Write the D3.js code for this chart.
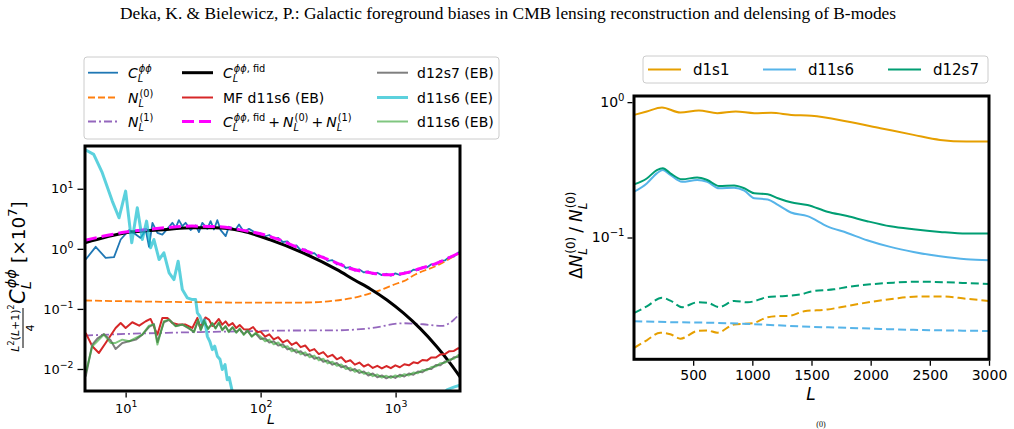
<!DOCTYPE html>
<html>
<head>
<meta charset="utf-8">
<script src="https://cdn.jsdelivr.net/npm/d3@7"></script>
<style>
  body { margin: 0; background: #fff; }
  svg { font-family: "DejaVu Sans", sans-serif; }
</style>
</head>
<body>
<svg id="fig" width="1014" height="429"></svg>
<script>
// ---------- data: left panel (lensing spectra, x10^7) ----------
const hiL = [100,108,116,125,135,146,158,170,184,198,214,231,250,270,291,314,340,367,396,428,462,499,539,582,628,678,732,791,854,922,996,1075,1161,1254,1354,1462,1579,1705,1841,1988,2147,2318,2503,2703,2918,3000];

const clLowL = [5.06,6.0,7.11,8.2,9.19,10.6,11.9,12.9,14.1,14.9,15.8,17.2,18.7,20.4,22.2,23.5,24.8,26.3,27.8,30.3,33,34.9,37,40.3,42.6,45.1,47.8,50.6,55.1,58.2,65.3,69.2,75.3,82,91.9];
const clLowV = [0.664,1.08,0.708,0.726,1.43,2.05,1.73,1.52,2.05,1.08,2.71,1.85,1.73,2.15,2.71,2.24,3.0,2.39,2.71,2.05,2.45,1.9,2.71,2.15,2.89,2.1,3.0,2.05,1.63,2.33,2.1,2.55,1.9,2.15,1.85];
const clHiV = [1.80,1.62,1.70,1.47,1.52,1.30,1.33,1.10,1.14,0.95,0.98,0.83,0.85,0.72,0.74,0.63,0.65,0.55,0.565,0.48,0.495,0.435,0.455,0.405,0.42,0.38,0.40,0.365,0.385,0.357,0.39,0.367,0.405,0.398,0.45,0.442,0.495,0.49,0.553,0.55,0.628,0.64,0.735,0.745,0.87,0.86];

const n0L = [5,10,20,40,80,150,250,350,486,650,815,1000,1150,1400,2000,2930];
const n0V = [0.138,0.134,0.131,0.129,0.127,0.127,0.129,0.137,0.153,0.182,0.215,0.26,0.29,0.375,0.52,0.83];

const n1L = [5,10,20,40,80,118,368,650,1146,1600,2200,2700,3000];
const n1V = [0.036,0.0383,0.040,0.0414,0.0425,0.0435,0.044,0.0477,0.0577,0.0555,0.052,0.066,0.085];

const fidL = [5,10,20,31,46,73,118,208,368,500,650,863,1146,1524,2022,2541,3000];
const fidV = [1.26,1.85,2.1,2.24,2.24,1.97,1.41,0.85,0.45,0.30,0.215,0.141,0.085,0.047,0.0235,0.0124,0.0074];

const mfLowL = [5.06,5.66,6.34,7.11,8.43,9.19,10,11.2,12.6,14.1,15.3,17.2,18.7,20.4,22.2,24.8,27.8,31.2,34,35.5,37,39,41.4,43.9,46.4,49,52,55,58,62,66,70,75,82,88,94];
const mfLowV = [0.0398,0.0239,0.0185,0.0271,0.0482,0.0584,0.0482,0.06,0.0527,0.0623,0.0681,0.0373,0.0708,0.0708,0.0584,0.0548,0.0548,0.0482,0.0708,0.050,0.0584,0.072,0.0664,0.052,0.0584,0.068,0.0548,0.062,0.0527,0.058,0.048,0.054,0.046,0.0453,0.050,0.041];
const mfHiV = [0.042,0.0345,0.0378,0.031,0.0338,0.0278,0.0302,0.0252,0.0277,0.0231,0.0246,0.0200,0.0214,0.0177,0.0191,0.0159,0.0172,0.0145,0.0157,0.0131,0.0140,0.0118,0.0128,0.0110,0.0119,0.0104,0.0113,0.0102,0.0112,0.0103,0.0115,0.0107,0.0120,0.0115,0.0129,0.0125,0.0141,0.0138,0.0156,0.0155,0.0175,0.0177,0.0198,0.0200,0.0222,0.0220];

const sumL = [5,10,20,31,46,73,118,208,368,451,650,863,1148,1524,2022,3000];
const sumV = [1.39,1.9,2.25,2.39,2.35,2.05,1.6,0.96,0.58,0.48,0.40,0.37,0.39,0.47,0.58,0.87];

const ebLowL = [5.06,5.66,6.17,6.9,7.74,8.43,9.45,10.6,11.9,13.3,14.9,16.2,17.2,19.2,21.0,23.5,26.3,29.5,32.1,34.4,36.0,38.2,40.8,43.9,46.4,49.1,52,55,58,62,66,70,75,80,86,92];
const d12LowV = [0.0075,0.0255,0.032,0.0383,0.030,0.0216,0.0271,0.0289,0.0308,0.0373,0.050,0.056,0.028,0.060,0.066,0.052,0.055,0.047,0.042,0.064,0.045,0.061,0.047,0.057,0.048,0.058,0.045,0.051,0.042,0.049,0.041,0.046,0.038,0.043,0.035,0.039];
const d12HiV = [0.0315,0.0325,0.0275,0.0290,0.0245,0.0258,0.0212,0.0222,0.0187,0.0198,0.0168,0.0177,0.0148,0.0156,0.0132,0.0139,0.0118,0.0126,0.0107,0.0112,0.0094,0.0100,0.0086,0.0091,0.0078,0.0084,0.0073,0.0078,0.0070,0.0076,0.0071,0.0080,0.0075,0.0084,0.0080,0.0091,0.0088,0.0100,0.0100,0.0116,0.0115,0.0133,0.0134,0.0157,0.0159,0.0178];
const d11LowV = [0.0086,0.0239,0.0289,0.0373,0.0271,0.0271,0.0308,0.0289,0.0329,0.0373,0.0527,0.0548,0.0255,0.0623,0.0664,0.0514,0.0548,0.0482,0.0408,0.066,0.0440,0.063,0.046,0.0584,0.047,0.060,0.0440,0.052,0.041,0.050,0.040,0.047,0.037,0.044,0.0345,0.040];
const d11HiV = [0.0345,0.0290,0.0308,0.0257,0.0276,0.0229,0.0239,0.0197,0.0210,0.0176,0.0189,0.0157,0.0167,0.0139,0.0148,0.0124,0.0132,0.0113,0.0119,0.0100,0.0105,0.0090,0.0096,0.0083,0.0087,0.0076,0.0081,0.0072,0.0077,0.0071,0.0078,0.0074,0.0082,0.0078,0.0087,0.0085,0.0096,0.0095,0.0108,0.0110,0.0125,0.0127,0.0144,0.0148,0.0171,0.0173];

const eeL = [5.06,5.8,6.71,7.96,8.93,10,11.1,12.2,13.3,14.3,15.3,16.2,17.7,19.2,21,22.8,24.5,26.3,28.6,31.2,33,34,35.5,37,38.5,40.3,42,43.9,45.7,47.8,50,52,54.5,56.6,58.5,61.7,70,150,500,1500,2200,2400,2700,3000];
const eeV = [44.1,37.4,18.5,6.23,3.29,9.14,1.26,4.82,1.43,2.89,1.04,1.43,0.664,0.86,0.398,0.308,0.623,0.21,0.153,0.143,0.143,0.0858,0.0755,0.0584,0.066,0.035,0.0289,0.021,0.024,0.0163,0.0145,0.0098,0.0118,0.0066,0.0072,0.0042,0.003,0.0015,0.001,0.002,0.0035,0.0045,0.005,0.0054];

// ---------- data: right panel (relative N0 bias) ----------
const solidL = [2,108,193,244,307,406,534,619,719,846,932,1017,1130,1216,1326,1466,1634,1802,1970,2166,2362,2586,2810,3000];
const d12s7Solid = [0.247,0.273,0.315,0.325,0.298,0.269,0.278,0.266,0.240,0.242,0.231,0.212,0.209,0.195,0.182,0.174,0.155,0.144,0.132,0.121,0.115,0.110,0.107,0.107];
const d11s6Solid = [0.218,0.251,0.298,0.315,0.290,0.258,0.266,0.258,0.231,0.233,0.222,0.195,0.191,0.174,0.153,0.144,0.121,0.108,0.0955,0.0853,0.0783,0.0727,0.0691,0.068];
const d1s1L = [2,108,236,392,548,704,860,1017,1159,1329,1500,1802,2082,2362,2586,2810,3000];
const d1s1Solid = [0.805,0.853,0.913,0.838,0.868,0.829,0.853,0.829,0.834,0.805,0.792,0.719,0.642,0.573,0.526,0.511,0.511];

const d12DashL = [2,108,236,307,406,534,619,719,846,960,1130,1234,1410,1500,1690,1802,1998,2194,2418,2642,2810,3000];
const d12s7Dash = [0.0277,0.031,0.0359,0.0342,0.0306,0.0332,0.0330,0.0306,0.034,0.0332,0.0363,0.0368,0.038,0.040,0.0414,0.0431,0.0451,0.0464,0.0472,0.0467,0.0461,0.0454];
const d1DashL = [2,108,222,307,392,534,619,704,846,1003,1130,1234,1298,1438,1634,1802,1998,2194,2418,2586,2810,3000];
const d1s1Dash = [0.0153,0.0174,0.0198,0.0193,0.0179,0.0204,0.0206,0.0198,0.0228,0.0233,0.0258,0.0263,0.0263,0.0285,0.0294,0.0312,0.0334,0.0353,0.0367,0.0367,0.0353,0.034];
const d11DashL = [2,307,704,1074,1319,1802,2362,3000];
const d11s6Dash = [0.0241,0.0237,0.0234,0.0228,0.0222,0.0215,0.0208,0.0204];

const leftYTicks = [0.01, 0.1, 1, 10];
const leftXTicks = [10, 100, 1000];
const rightYTicks = [0.1, 1];
const rightXTicks = [500, 1000, 1500, 2000, 2500, 3000];

const titleText = "Deka, K. & Bielewicz, P.: Galactic foreground biases in CMB lensing reconstruction and delensing of B-modes";

// ---------- helpers ----------
const zip = (a, b) => a.map((v, i) => [v, b[i]]);
const svg = d3.select("#fig");

function plain(g, x, y, s, fs, italic) {
  const t = g.append("text").attr("x", x).attr("y", y)
    .style("font-size", fs + "px").style("font-style", italic ? "italic" : "normal").text(s);
  return x + t.node().getComputedTextLength();
}

// base symbol with stacked sub/superscript, returns the x where it ends
function term(g, x, y, base, sub, sup, fs) {
  const b = g.append("text").attr("x", x).attr("y", y)
    .style("font-size", fs + "px").style("font-style", "italic").text(base);
  const w = b.node().getComputedTextLength();
  const ss = fs * 0.7;
  const p = g.append("text").attr("x", x + w + 1).attr("y", y - fs * 0.42).style("font-size", ss + "px");
  sup.forEach(s => p.append("tspan").style("font-style", s[1] ? "italic" : "normal").text(s[0]));
  const q = g.append("text").attr("x", x + w).attr("y", y + fs * 0.3)
    .style("font-size", ss + "px").style("font-style", "italic").text(sub);
  return x + w + 1 + Math.max(p.node().getComputedTextLength(), q.node().getComputedTextLength());
}

function powTicks(g, fs) {
  g.selectAll(".tick text").each(function (d) {
    const e = Math.round(Math.log10(d));
    const t = d3.select(this).text(null);
    t.append("tspan").text("10");
    t.append("tspan").attr("dy", -fs * 0.45).style("font-size", (fs * 0.72) + "px")
      .text(e < 0 ? "\u2212" + (-e) : e);
  });
}

// ---------- title ----------
svg.append("text")
  .attr("x", 508).attr("y", 19)
  .attr("text-anchor", "middle")
  .style("font-family", "'Liberation Serif', serif")
  .style("font-size", "17.4px")
  .text(titleText);

// ---------- left panel ----------
const xL = d3.scaleLog().domain([5, 3000]).range([85, 460]);
const yL = d3.scaleLog().domain([0.0043, 51.5]).range([391, 146]);

svg.append("defs").append("clipPath").attr("id", "clipL")
  .append("rect").attr("x", 85).attr("y", 146).attr("width", 375).attr("height", 245);

const lineL = d3.line().x(d => xL(d[0])).y(d => yL(d[1]));
const smoothL = d3.line().x(d => xL(d[0])).y(d => yL(d[1])).curve(d3.curveMonotoneX);

const leftSeries = [
  { pts: zip(clLowL.concat(hiL), clLowV.concat(clHiV)), color: "#1f77b4", w: 1.8, gen: lineL },
  { pts: zip(n0L, n0V), color: "#ff7f0e", w: 1.8, dash: "7,3", gen: smoothL },
  { pts: zip(n1L, n1V), color: "#9467bd", w: 1.8, dash: "8,3,2,3", gen: smoothL },
  { pts: zip(fidL, fidV), color: "#000", w: 3, gen: smoothL },
  { pts: zip(mfLowL.concat(hiL), mfLowV.concat(mfHiV)), color: "#d62728", w: 2, gen: lineL },
  { pts: zip(sumL, sumV), color: "#ff00ff", w: 3, dash: "12,5", gen: smoothL },
  { pts: zip(ebLowL.concat(hiL), d12LowV.concat(d12HiV)), color: "#7f7f7f", w: 2, gen: lineL },
  { pts: zip(eeL, eeV), color: "#17becf", w: 3, op: 0.7, gen: lineL },
  { pts: zip(ebLowL.concat(hiL), d11LowV.concat(d11HiV)), color: "#2ca02c", w: 2, op: 0.6, gen: lineL }
];

const plotL = svg.append("g").attr("clip-path", "url(#clipL)");
leftSeries.forEach(s => {
  plotL.append("path")
    .attr("d", s.gen(s.pts))
    .attr("fill", "none")
    .attr("stroke", s.color)
    .attr("stroke-width", s.w)
    .attr("stroke-opacity", s.op || 1)
    .attr("stroke-dasharray", s.dash || null)
    .attr("stroke-linejoin", "round");
});

svg.append("rect").attr("x", 85).attr("y", 146).attr("width", 375).attr("height", 245)
  .attr("fill", "none").attr("stroke", "#000").attr("stroke-width", 3);

const yAxisL = svg.append("g").attr("transform", "translate(83.5,0)")
  .call(d3.axisLeft(yL).tickValues(leftYTicks).tickSize(6).tickPadding(4));
yAxisL.select(".domain").remove();
yAxisL.selectAll(".tick line").attr("stroke-width", 1.3);
yAxisL.selectAll(".tick text").style("font-size", "13px").style("font-family", "'DejaVu Sans'");
powTicks(yAxisL, 13);

const xAxisL = svg.append("g").attr("transform", "translate(0,392.5)")
  .call(d3.axisBottom(xL).tickValues(leftXTicks).tickSize(5));
xAxisL.select(".domain").remove();
xAxisL.selectAll(".tick line").attr("stroke-width", 1.3);
xAxisL.selectAll(".tick text").attr("dy", null).attr("y", 20.5)
  .style("font-size", "13px").style("font-family", "'DejaVu Sans'");
powTicks(xAxisL, 13);

// axis title sits at the very bottom edge, as in the page crop
svg.append("text").attr("x", 271).attr("y", 424).attr("text-anchor", "middle")
  .style("font-size", "14px").style("font-style", "italic").text("L");

// left y label: L^2(L+1)^2/4 C_L^phiphi [x10^7]
const ylab = svg.append("g").attr("transform", "translate(0,348) rotate(-90)");
const num = ylab.append("text").attr("x", 20).attr("y", 18.5).attr("text-anchor", "middle").style("font-size", "11px");
num.append("tspan").style("font-style", "italic").text("L");
num.append("tspan").attr("dy", -4.5).style("font-size", "8px").text("2");
num.append("tspan").attr("dy", 4.5).text("(");
num.append("tspan").style("font-style", "italic").text("L");
num.append("tspan").text("+1)");
num.append("tspan").attr("dy", -4.5).style("font-size", "8px").text("2");
ylab.append("line").attr("x1", 0).attr("x2", 40).attr("y1", 23).attr("y2", 23)
  .attr("stroke", "#000").attr("stroke-width", 1);
ylab.append("text").attr("x", 20).attr("y", 33.5).attr("text-anchor", "middle").style("font-size", "11px").text("4");
let ux = term(ylab, 44, 24.5, "C", "L", [["\u03d5\u03d5", 1]], 21);
const unit = ylab.append("text").attr("x", ux + 6).attr("y", 24.5).style("font-size", "18.5px");
unit.append("tspan").text("[\u00d710");
unit.append("tspan").attr("dy", -8).style("font-size", "13px").text("7");
unit.append("tspan").attr("dy", 8).text("]");

// left legend
const legL = svg.append("g");
legL.append("rect").attr("x", 84).attr("y", 57).attr("width", 415).attr("height", 82).attr("rx", 3)
  .attr("fill", "#fff").attr("stroke", "#cccccc").attr("stroke-width", 1);
const rowsY = [72.7, 97.5, 121.5];
const colLine = [[88, 118], [182, 213], [377, 408]];
const colText = [128, 223, 417];
leftSeries.forEach((s, i) => {
  const c = Math.floor(i / 3), r = i % 3;
  legL.append("line")
    .attr("x1", colLine[c][0]).attr("x2", colLine[c][1])
    .attr("y1", rowsY[r]).attr("y2", rowsY[r])
    .attr("stroke", s.color).attr("stroke-width", s.w)
    .attr("stroke-opacity", s.op || 1)
    .attr("stroke-dasharray", s.dash || null);
});
const fsLeg = 14;
term(legL, colText[0], rowsY[0] + 5, "C", "L", [["\u03d5\u03d5", 1]], fsLeg);
term(legL, colText[0], rowsY[1] + 5, "N", "L", [["(0)", 0]], fsLeg);
term(legL, colText[0], rowsY[2] + 5, "N", "L", [["(1)", 0]], fsLeg);
term(legL, colText[1], rowsY[0] + 5, "C", "L", [["\u03d5\u03d5", 1], [", fid", 0]], fsLeg);
plain(legL, colText[1], rowsY[1] + 5, "MF d11s6 (EB)", fsLeg);
let lx = term(legL, colText[1], rowsY[2] + 5, "C", "L", [["\u03d5\u03d5", 1], [", fid", 0]], fsLeg);
lx = plain(legL, lx + 3, rowsY[2] + 5, "+", fsLeg);
lx = term(legL, lx + 3, rowsY[2] + 5, "N", "L", [["(0)", 0]], fsLeg);
lx = plain(legL, lx + 3, rowsY[2] + 5, "+", fsLeg);
term(legL, lx + 3, rowsY[2] + 5, "N", "L", [["(1)", 0]], fsLeg);
plain(legL, colText[2], rowsY[0] + 5, "d12s7 (EB)", fsLeg);
plain(legL, colText[2], rowsY[1] + 5, "d11s6 (EE)", fsLeg);
plain(legL, colText[2], rowsY[2] + 5, "d11s6 (EB)", fsLeg);

// ---------- right panel ----------
const xR = d3.scaleLinear().domain([0, 3000]).range([634, 989]);
const yR = d3.scaleLog().domain([0.0126, 1.11]).range([359.3, 96]);
svg.select("defs").append("clipPath").attr("id", "clipR")
  .append("rect").attr("x", 634).attr("y", 96).attr("width", 355).attr("height", 263.3);

const lineR = d3.line().x(d => xR(d[0])).y(d => yR(d[1])).curve(d3.curveMonotoneX);
const rightSeries = [
  { pts: zip(d1s1L, d1s1Solid), color: "#E69F00" },
  { pts: zip(solidL, d11s6Solid), color: "#56B4E9" },
  { pts: zip(solidL, d12s7Solid), color: "#009E73" },
  { pts: zip(d1DashL, d1s1Dash), color: "#E69F00", dash: "8,4" },
  { pts: zip(d11DashL, d11s6Dash), color: "#56B4E9", dash: "8,4" },
  { pts: zip(d12DashL, d12s7Dash), color: "#009E73", dash: "8,4" }
];
const plotR = svg.append("g").attr("clip-path", "url(#clipR)");
rightSeries.forEach(s => {
  plotR.append("path")
    .attr("d", lineR(s.pts))
    .attr("fill", "none")
    .attr("stroke", s.color)
    .attr("stroke-width", 2)
    .attr("stroke-dasharray", s.dash || null);
});
svg.append("rect").attr("x", 634).attr("y", 96).attr("width", 355).attr("height", 263.3)
  .attr("fill", "none").attr("stroke", "#000").attr("stroke-width", 3);

const yAxisR = svg.append("g").attr("transform", "translate(632.5,0)")
  .call(d3.axisLeft(yR).tickValues(rightYTicks).tickSize(5).tickPadding(3));
yAxisR.select(".domain").remove();
yAxisR.selectAll(".tick line").attr("stroke-width", 1.3);
yAxisR.selectAll(".tick text").style("font-size", "14px").style("font-family", "'DejaVu Sans'");
powTicks(yAxisR, 14);

const xAxisR = svg.append("g").attr("transform", "translate(0,360.8)")
  .call(d3.axisBottom(xR).tickValues(rightXTicks).tickSize(5).tickFormat(d3.format("d")));
xAxisR.select(".domain").remove();
xAxisR.selectAll(".tick line").attr("stroke-width", 1.3);
xAxisR.selectAll(".tick text").attr("dy", null).attr("y", 19.5)
  .style("font-size", "14px").style("font-family", "'DejaVu Sans'");

svg.append("text").attr("x", 811).attr("y", 400).attr("text-anchor", "middle")
  .style("font-size", "17px").style("font-style", "italic").text("L");

// right y label: Delta N_L^(0) / N_L^(0)
const ylabR = svg.append("g").attr("transform", "translate(582,279) rotate(-90)");
let rx = plain(ylabR, 0, 0, "\u0394", 17);
rx = term(ylabR, rx, 0, "N", "L", [["(0)", 0]], 17);
rx = plain(ylabR, rx + 4, 0, "/", 17);
term(ylabR, rx + 5, 0, "N", "L", [["(0)", 0]], 17);

// right legend
const legR = svg.append("g");
legR.append("rect").attr("x", 643).attr("y", 56).attr("width", 345).attr("height", 27).attr("rx", 3)
  .attr("fill", "#fff").attr("stroke", "#cccccc").attr("stroke-width", 1);
const legNames = ["d1s1", "d11s6", "d12s7"];
const legLineX = [648, 763, 888];
legNames.forEach((n, i) => {
  legR.append("line").attr("x1", legLineX[i]).attr("x2", legLineX[i] + 33)
    .attr("y1", 69.5).attr("y2", 69.5)
    .attr("stroke", rightSeries[i].color).attr("stroke-width", 2);
  plain(legR, legLineX[i] + 45, 75, n, 15);
});

// fragment of the caption below the figure
svg.append("text").attr("x", 821).attr("y", 427).attr("text-anchor", "middle")
  .style("font-family", "'Liberation Serif', serif").style("font-size", "8px").text("(0)");
</script>
</body>
</html>
